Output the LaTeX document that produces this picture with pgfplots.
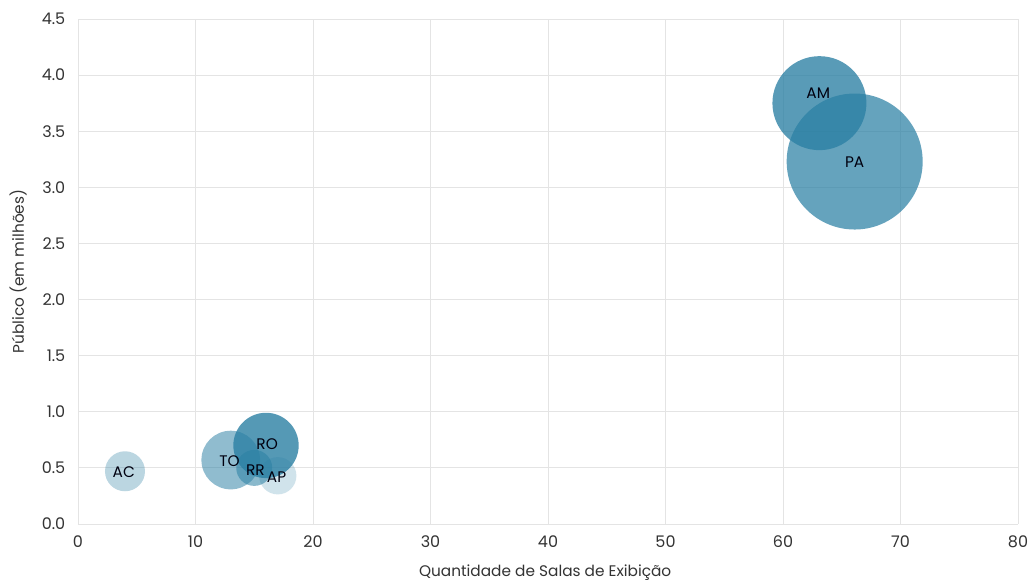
\documentclass[border=0pt]{standalone}
\usepackage{fontspec}
\setmainfont{Poppins}
\usepackage{pgfplots}
\pgfplotsset{compat=1.18}
\definecolor{bub}{HTML}{2A7FA3}
\definecolor{gridc}{HTML}{E4E4E4}
\definecolor{txt}{HTML}{333333}
\begin{document}
\begin{tikzpicture}
\begin{axis}[
  scale only axis,
  width=705pt, height=378.75pt,
  xmin=0, xmax=80, ymin=0, ymax=4.5,
  xtick={0,10,...,80}, ytick={0,0.5,...,4.5},
  grid=major,
  major grid style={gridc, line width=0.7pt},
  axis line style={gridc, line width=0.7pt},
  axis x line*=bottom, axis y line*=left,
  tick style={draw=none},
  /pgf/number format/assume math mode=true,
  yticklabel style={/pgf/number format/fixed, /pgf/number format/fixed zerofill, /pgf/number format/precision=1, font=\fontsize{12}{14}\selectfont, text=txt, xshift=-6pt},
  xticklabel style={font=\fontsize{12}{14}\selectfont, text=txt, yshift=-5pt},
  xlabel={Quantidade de Salas de Exibição},
  ylabel={Público (em milhões)},
  every axis x label/.style={at={(rel axis cs:0.497,-0.097)}, anchor=center},
  every axis y label/.style={at={(rel axis cs:-0.0638,0.5)}, rotate=90, anchor=center},
  label style={font=\fontsize{11.5}{13}\selectfont, text=txt},
  clip=false,
  nodes near coords align={center},
  every node near coord/.append style={font=\fontsize{11.5}{13}\selectfont, text=black!85!blue!40!black, anchor=center, opacity=1},
]
\coordinate (SW) at (rel axis cs:0,0);
\coordinate (NE) at (rel axis cs:1,1);
% AC
\addplot[only marks, mark=*, mark size=15pt, mark options={fill=bub, draw opacity=0, fill opacity=0.32}] coordinates {(4,0.47)};
% AP
\addplot[only marks, mark=*, mark size=14pt, mark options={fill=bub, draw opacity=0, fill opacity=0.22}] coordinates {(17,0.43)};
% TO
\addplot[only marks, mark=*, mark size=22pt, mark options={fill=bub, draw opacity=0, fill opacity=0.52}] coordinates {(13,0.57)};
% RR
\addplot[only marks, mark=*, mark size=13.5pt, mark options={fill=bub, draw opacity=0, fill opacity=0.55}] coordinates {(15,0.50)};
% RO
\addplot[only marks, mark=*, mark size=24.5pt, mark options={fill=bub, draw opacity=0, fill opacity=0.8}] coordinates {(16,0.70)};
% PA
\addplot[only marks, mark=*, mark size=51pt, mark options={fill=bub, draw opacity=0, fill opacity=0.72}] coordinates {(66.1,3.23)};
% AM
\addplot[only marks, mark=*, mark size=35.25pt, mark options={fill=bub, draw opacity=0, fill opacity=0.78}] coordinates {(63.1,3.75)};
% labels
\addplot[only marks, mark=none, nodes near coords={AC}] coordinates {(3.9,0.46)};
\addplot[only marks, mark=none, nodes near coords={TO}] coordinates {(12.9,0.56)};
\addplot[only marks, mark=none, nodes near coords={RR}] coordinates {(15.1,0.48)};
\addplot[only marks, mark=none, nodes near coords={AP}] coordinates {(16.9,0.42)};
\addplot[only marks, mark=none, nodes near coords={RO}] coordinates {(16.1,0.71)};
\addplot[only marks, mark=none, nodes near coords={PA}] coordinates {(66.1,3.22)};
\addplot[only marks, mark=none, nodes near coords={AM}] coordinates {(63,3.84)};
\end{axis}
\path ([shift={(-58.5pt,-43.5pt)}]SW) rectangle ([shift={(13.5pt,14.25pt)}]NE);
\end{tikzpicture}
\end{document}
